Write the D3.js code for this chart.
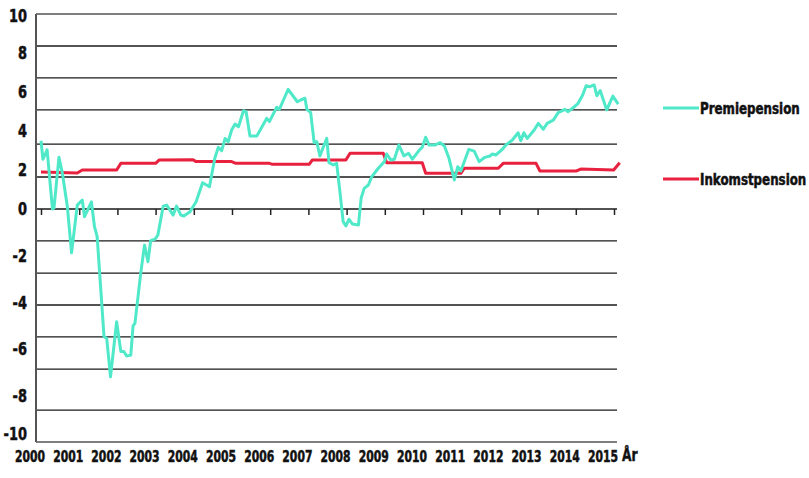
<!DOCTYPE html>
<html>
<head>
<meta charset="utf-8">
<script src="https://cdn.jsdelivr.net/npm/d3@7"></script>
<style>
  html, body { margin: 0; padding: 0; background: #fff; }
  svg { display: block; }
  .lbl { font-family: "DejaVu Sans Condensed", "Liberation Sans Narrow", sans-serif; font-weight: bold; fill: #111; stroke: #111; stroke-width: 0.5px; }
</style>
</head>
<body>
<svg id="chart" width="809" height="478"></svg>
<script>
// years shown on the x axis
const yearTicks = d3.range(2000, 2016);
// y-axis labels
const yTicks = [10, 8, 6, 4, 2, 0, -2, -4, -6, -8, -10];
// horizontal gridlines as drawn in the picture (chart units)
const gridValues = [10, 8.36, 6.72, 5.08, 3.33, 1.64, 0, -1.37, -2.75, -4.12, -5.49, -6.87, -8.63, -10];

// Premiepension
const premieTime = [2000.00, 2000.05, 2000.16, 2000.30, 2000.34, 2000.47, 2000.56, 2000.69, 2000.80, 2000.95,
  2001.08, 2001.14, 2001.32, 2001.40, 2001.47, 2001.65, 2001.72, 2001.82, 2001.98, 2002.09,
  2002.17, 2002.24, 2002.35, 2002.41, 2002.46, 2002.61, 2002.71, 2002.80, 2002.87, 2002.98,
  2003.06, 2003.20, 2003.29, 2003.46, 2003.55, 2003.66, 2003.74, 2003.90, 2004.06, 2004.23,
  2004.41, 2004.55, 2004.64, 2004.73, 2004.82, 2004.90, 2004.99, 2005.08, 2005.17, 2005.30,
  2005.37, 2005.47, 2005.65, 2005.91, 2005.98, 2006.17, 2006.24, 2006.47, 2006.71, 2006.80,
  2006.91, 2006.96, 2007.06, 2007.15, 2007.22, 2007.30, 2007.48, 2007.54, 2007.65, 2007.74,
  2007.83, 2007.91, 2007.98, 2008.06, 2008.15, 2008.31, 2008.38, 2008.46, 2008.57, 2008.66,
  2008.83, 2008.99, 2009.05, 2009.16, 2009.25, 2009.37, 2009.50, 2009.62, 2009.72, 2009.92,
  2009.98, 2010.07, 2010.16, 2010.31, 2010.45, 2010.56, 2010.68, 2010.82, 2010.91, 2010.99,
  2011.20, 2011.34, 2011.47, 2011.62, 2011.75, 2011.82, 2011.91, 2012.06, 2012.17, 2012.34,
  2012.49, 2012.56, 2012.64, 2012.73, 2012.91, 2013.02, 2013.15, 2013.25, 2013.41, 2013.54,
  2013.72, 2013.80, 2013.93, 2014.06, 2014.18, 2014.27, 2014.37, 2014.48, 2014.55, 2014.64,
  2014.81, 2014.97, 2015.11];
const premieValue = [3.50, 2.55, 3.03, 0.00, 0.05, 2.65, 1.83, 0.12, -1.88, 0.20,
  0.46, -0.33, 0.37, -0.76, -1.19, -5.48, -5.55, -7.20, -4.84, -6.12,
  -6.12, -6.31, -6.27, -5.02, -4.90, -2.76, -1.55, -2.26, -1.36, -1.30,
  -1.12, 0.15, 0.20, -0.26, 0.15, -0.26, -0.30, -0.12, 0.37, 1.35,
  1.14, 2.60, 3.16, 2.99, 3.62, 3.45, 4.05, 4.36, 4.22, 5.04,
  4.99, 3.74, 3.74, 4.65, 4.48, 5.22, 5.11, 6.14, 5.50, 5.59,
  5.68, 5.11, 4.94, 3.40, 3.45, 2.72, 3.62, 2.37, 2.26, 2.34,
  0.80, -0.54, -0.73, -0.44, -0.64, -0.69, 0.55, 1.06, 1.23, 1.66,
  2.09, 2.43, 2.82, 2.51, 2.55, 3.28, 2.72, 2.86, 2.55, 3.06,
  3.16, 3.68, 3.28, 3.28, 3.40, 3.23, 2.60, 1.49, 2.17, 1.95,
  3.06, 2.97, 2.43, 2.65, 2.72, 2.82, 2.77, 3.03, 3.28, 3.54,
  3.91, 3.50, 3.91, 3.62, 4.05, 4.39, 4.09, 4.39, 4.56, 4.94,
  5.11, 4.99, 5.19, 5.42, 5.85, 6.32, 6.27, 6.36, 5.81, 6.07,
  5.08, 5.79, 5.38];

// Inkomstpension
const inkomstTime = [2000.00, 2000.95, 2001.08, 2001.98, 2002.09, 2003.00, 2003.09, 2003.98, 2004.06, 2004.99,
  2005.10, 2005.98, 2006.06, 2007.02, 2007.10, 2007.98, 2008.09, 2008.96, 2009.05, 2009.98,
  2010.07, 2010.99, 2011.08, 2011.97, 2012.10, 2012.96, 2013.06, 2014.02, 2014.13, 2014.99,
  2015.15];
const inkomstValue = [1.90, 1.85, 2.00, 2.00, 2.34, 2.34, 2.51, 2.53, 2.43, 2.43,
  2.34, 2.34, 2.29, 2.29, 2.51, 2.51, 2.86, 2.86, 2.37, 2.37,
  1.83, 1.83, 2.09, 2.09, 2.34, 2.34, 1.95, 1.95, 2.05, 2.00,
  2.37];

const seriesNames = ["Premiepension", "Inkomstpension"];
const seriesColors = ["#4fe9c9", "#e8213f"];

const svg = d3.select("#chart");
svg.append("rect").attr("width", 809).attr("height", 478).attr("fill", "#fff");

const plotLeft = 36, plotRight = 617;
const x = d3.scaleLinear().domain([2000, 2015]).range([41, 614]);
const y = d3.scaleLinear().domain([-10, 0, 10]).range([442, 209, 14]);

// gridlines
svg.append("g").selectAll("line").data(gridValues).join("line")
  .attr("x1", plotLeft).attr("x2", plotRight)
  .attr("y1", d => y(d)).attr("y2", d => y(d))
  .attr("stroke", d => (d === 10 || d === -10) ? "#555" : "#1a1a1a")
  .attr("stroke-width", d => (d === 10 || d === -10) ? 1.6 : 1.3);

// left axis line
svg.append("line").attr("x1", plotLeft).attr("x2", plotLeft)
  .attr("y1", y(10)).attr("y2", y(-10)).attr("stroke", "#555").attr("stroke-width", 2);

// x ticks on zero line
svg.append("g").attr("transform", `translate(0,${y(0)})`)
  .call(d3.axisBottom(x).tickValues(yearTicks).tickSize(6).tickFormat(""))
  .call(g => g.select(".domain").remove())
  .call(g => g.selectAll(".tick line").attr("stroke", "#222").attr("stroke-width", 1.5));

// x labels under the plot, ending just right of each tick
svg.append("g").selectAll("text").data(yearTicks).join("text")
  .attr("class", "lbl")
  .attr("font-size", 15)
  .attr("text-anchor", "end")
  .attr("transform", d => `translate(${x(d) + 4},${y(-10) + 20}) scale(0.8,1)`)
  .text(d => d);

svg.append("text").attr("class", "lbl")
  .attr("font-size", 17)
  .attr("transform", `translate(622,461) scale(0.8,1)`)
  .text("År");

// y labels
svg.append("g").selectAll("text").data(yTicks).join("text")
  .attr("class", "lbl")
  .attr("font-size", 18)
  .attr("text-anchor", "end")
  .attr("transform", d => `translate(27,${y(d) + (d === 10 ? 2 : d === -10 ? -8 : 0)}) scale(0.8,1)`)
  .attr("dy", "0.36em")
  .text(d => d);

// lines
const line = d3.line().x(d => x(d[0])).y(d => y(d[1]));
const series = [
  d3.zip(premieTime, premieValue),
  d3.zip(inkomstTime, inkomstValue)
];
svg.append("path").datum(series[1]).attr("d", line)
  .attr("fill", "none").attr("stroke", seriesColors[1]).attr("stroke-width", 3).attr("stroke-linejoin", "round");
svg.append("path").datum(series[0]).attr("d", line)
  .attr("fill", "none").attr("stroke", seriesColors[0]).attr("stroke-width", 3).attr("stroke-linejoin", "round");

// legend
const legendY = [108, 179];
const legend = svg.append("g").selectAll("g").data(seriesNames).join("g")
  .attr("transform", (d, i) => `translate(663,${legendY[i]})`);
legend.append("line").attr("x1", 0).attr("x2", 36)
  .attr("stroke", (d, i) => seriesColors[i]).attr("stroke-width", 3);
legend.append("text").attr("class", "lbl")
  .attr("font-size", 15)
  .attr("transform", "translate(37,5.5) scale(0.88,1)")
  .text(d => d);
</script>
</body>
</html>
